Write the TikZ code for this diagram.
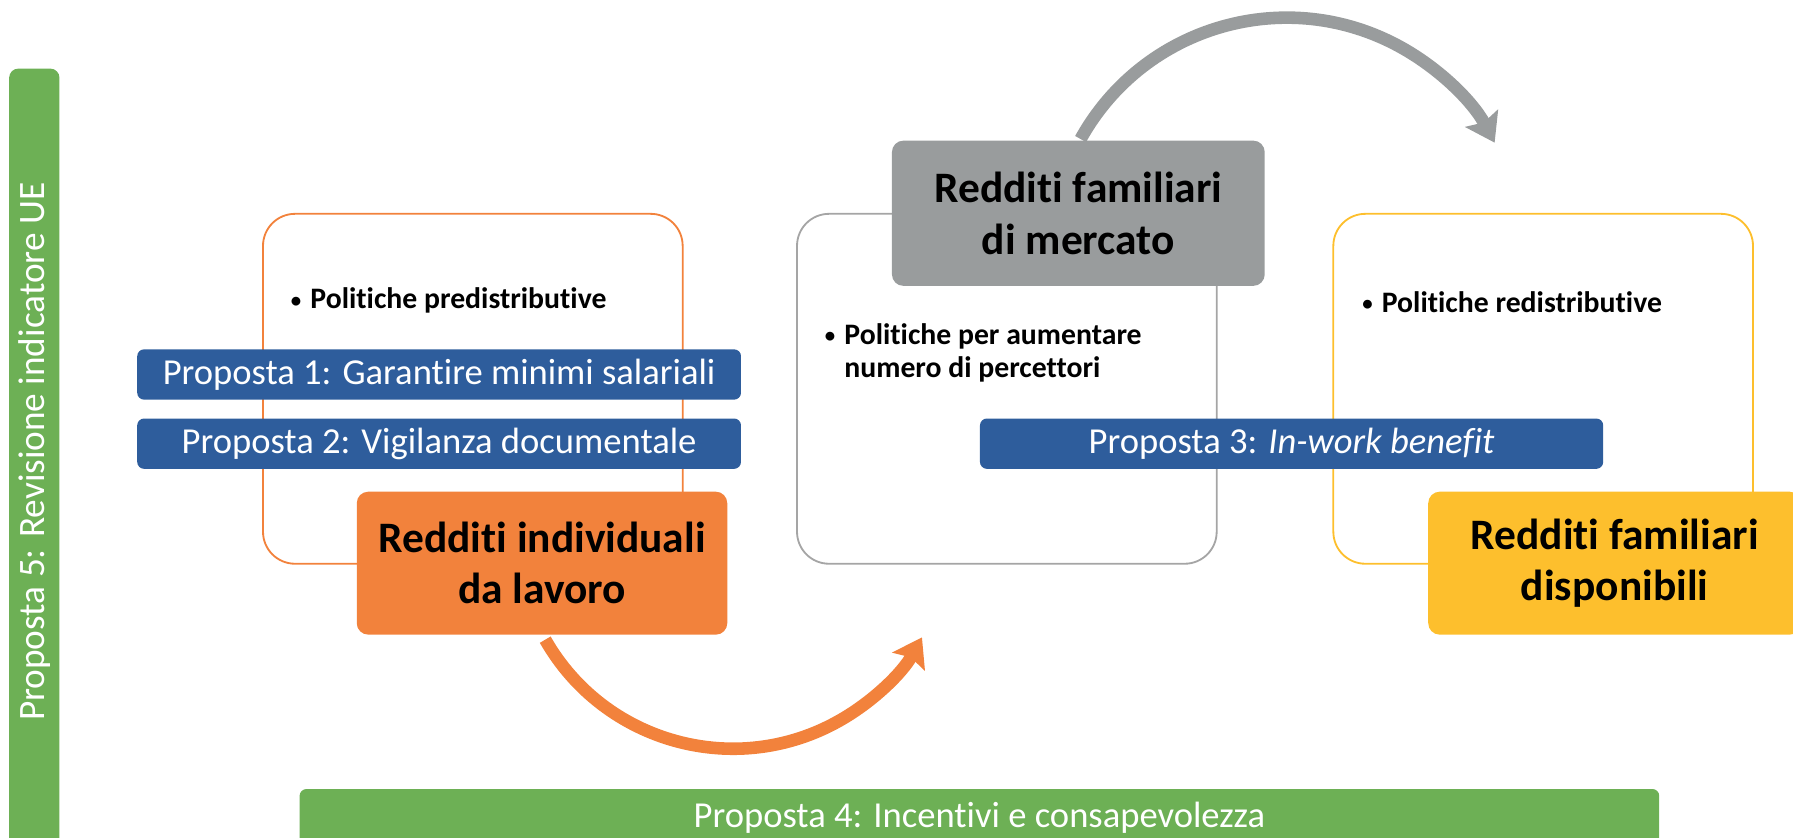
\documentclass[tikz,border=0pt]{standalone}
\usepackage{fontspec}
\usepackage{graphicx}
\setmainfont[Ligatures=NoCommon]{Carlito}
\usetikzlibrary{arrows.meta}
\definecolor{cOrange}{HTML}{F2823C}
\definecolor{cBlue}{HTML}{2E5D9C}
\definecolor{cGray}{HTML}{999C9D}
\definecolor{cGrayLine}{HTML}{A5A5A5}
\definecolor{cYellow}{HTML}{FDBF2D}
\definecolor{cGreen}{HTML}{6DB055}
\newcommand\bulsym{\raisebox{0.6pt}{\scalebox{0.7}{\textbullet}}\hspace{4pt}}
\begin{document}
\begin{tikzpicture}[x=0.5pt,y=-0.5pt,
  frame/.style={draw=#1, line width=0.8pt, rounded corners=14pt, minimum width=183.5pt, minimum height=153pt, inner sep=0pt},
  bluebar/.style={fill=cBlue, text=white, rounded corners=3pt, minimum height=22pt, inner sep=0pt, font=\fontsize{16}{18}\selectfont},
  bigbox/.style={fill=#1, rounded corners=5pt, minimum width=162pt, minimum height=62.5pt, inner sep=0pt, align=center, font=\fontsize{19}{22.5}\selectfont\bfseries},
  greenbar/.style={fill=cGreen, text=white, rounded corners=3pt, inner sep=0pt, font=\fontsize{16}{18}\selectfont},
  bul/.style={inner sep=0pt, align=left, font=\fontsize{13}{14.5}\selectfont\bfseries},
  bigarrow/.style={draw=#1, line width=5.5pt, -{Stealth[length=12pt, width=16pt, inset=2pt]}}
]
\useasboundingbox (0,0) rectangle (1568,732);
\clip (0,0) rectangle (1568,732);

% outline frames
\node[frame=cOrange] (oframe) at (413.5,340) {};
\node[frame=cGrayLine] (gframe) at (880.5,340) {};
\node[frame=cYellow] (yframe) at (1349.5,340) {};

% bullet texts
\node[bul, anchor=base west] (obul) at (254,270) {\bulsym Politiche predistributive};
\node[bul, anchor=base west] (gbul) at (721,330) {\bulsym Politiche per aumentare\\\hphantom{\bulsym}numero di percettori};
\node[bul, anchor=base west] (ybul) at (1191,273) {\bulsym Politiche redistributive};

% blue proposal bars
\node[bluebar, minimum width=264pt] (p1) at (384,327.5) {Proposta 1: Garantire minimi salariali};
\node[bluebar, minimum width=264pt] (p2) at (384,388) {Proposta 2: Vigilanza documentale};
\node[bluebar, minimum width=272.5pt] (p3) at (1129.5,388) {Proposta 3: \textit{In-work benefit}};

% filled boxes
\node[bigbox=cOrange] (ofill) at (474,492.5) {Redditi individuali\\da lavoro};
\node[bigbox=cGray, minimum width=163pt, minimum height=63.5pt] (gfill) at (943,186.5) {Redditi familiari\\di mercato};
\node[bigbox=cYellow, minimum width=163pt] (yfill) at (1412,492.5) {Redditi familiari\\disponibili};

% green bars
\node[greenbar, minimum width=22pt, minimum height=342.5pt, rounded corners=4pt] (p5) at (30,402.5)
  {\rotatebox{90}{\fontsize{16.3}{18}\selectfont\hspace*{7.5pt}Proposta 5: Revisione indicatore UE}};
\node[greenbar, minimum width=594.5pt, minimum height=25pt] (p4) at (856.5,715) {Proposta 4: Incentivi e consapevolezza};

% curved arrows
\draw[bigarrow=cGray] ([xshift=1pt,yshift=0.5pt]gfill.north) arc[start angle=151, end angle=28, radius=103pt];
\draw[bigarrow=cOrange] ([xshift=1.4pt,yshift=-2pt]ofill.south) arc[start angle=209.7, end angle=331, radius=94.5pt];
\end{tikzpicture}
\end{document}
